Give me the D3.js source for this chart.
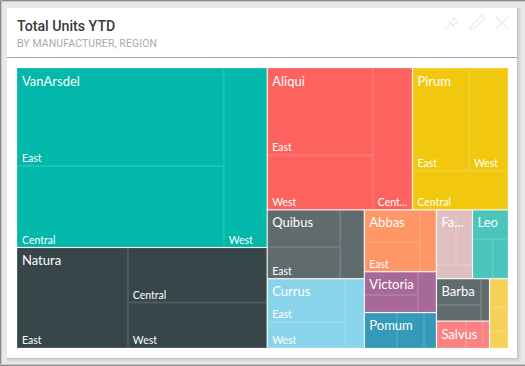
<!DOCTYPE html>
<html><head><meta charset="utf-8">
<script src="https://cdn.jsdelivr.net/npm/d3@7"></script>
<style>
html,body{margin:0;padding:0;background:#e6e6e6;overflow:hidden}
svg{display:block}
</style></head><body>
<svg id="c" width="525" height="366"></svg>
<script>
const titleText = "Total Units YTD";
const subtitleText = "BY MANUFACTURER, REGION";
const manufacturers = ["VanArsdel","Natura","Aliqui","Pirum","Quibus","Currus","Abbas","Victoria","Pomum","Fa...","Leo","Barba","Salvus",""];
const colors = ["#01B8AA","#374649","#FD625E","#F2C80F","#5F6B6D","#8AD4EB","#FE9666","#A66999","#3599B8","#DFBFBF","#4AC5BB","#5F6B6D","#FB8281","#F4D25A"];
const regionLabels = [
 ["East","Central","West"],
 ["East","Central","West"],
 ["East","West","Cent..."],
 ["East","West","Central"],
 ["","East",""],
 ["East","West",""],
 ["","East",""],
 ["","",""],
 ["","",""],
 ["","",""],
 ["","",""],
 ["","",""],
 ["","",""],
 ["","",""]
];
const regionUnits = [
 [20286,16870,7808],
 [11155,7672,6347],
 [9239,5770,5619],
 [5820,4017,3737],
 [2738,2300,1656],
 [3371,2015,1355],
 [1804,1637,1023],
 [1257,936,758],
 [1154,958,444],
 [1082,916,486],
 [1047,790,612],
 [1179,712,361],
 [796,446,188],
 [527,444,314]
];
// how many tiles share each strip of the treemap, largest strip first
const topStrips = [2,2,2,3,2,2,1];
const regionStrips = [[2,1],[1,2],[2,1],[2,1],[2,1],[2,1],[2,1],[2,1],[1,1,1],[2,1],[1,2],[2,1],[1,2],[1,1,1]];

const svg = d3.select("#c");
const W = 491, H = 280, X0 = 17, Y0 = 68;

function rect(x,y,w,h,f,o){return svg.append("rect").attr("x",x).attr("y",y).attr("width",w).attr("height",h).attr("fill",f).attr("fill-opacity",o==null?1:o);}
// page frame
rect(0,0,525,366,"#e8e8e8");
rect(0,0,525,1,"#8c8c8c");
rect(0,1,525,1,"#c4c4c4");
rect(0,0,1,366,"#8c8c8c");
rect(1,0,1,366,"#c4c4c4");
rect(0,365,525,1,"#8c8c8c");
rect(0,364,525,1,"#c4c4c4");
// card shadow
[[4,.03],[3,.03],[2,.04],[1,.05]].forEach(([s,o])=>rect(7,8,510+s,350+s,"#000",o));
rect(7,8,510,350,"#fff");
rect(7,57,510,1,"#a6a6a6");

svg.append("text").attr("x",17).attr("y",31).text(titleText)
  .attr("font-family","Roboto").attr("font-weight",500).attr("font-size",14.2).attr("fill","#3a3a3a");
svg.append("text").attr("x",17).attr("y",46.5).text(subtitleText)
  .attr("font-family","Roboto").attr("font-size",10.5).attr("letter-spacing",0.1).attr("fill","#aaa");

// header icons
const icons = svg.append("g").attr("fill","none").attr("stroke","#ebebeb").attr("stroke-width",1.2);
icons.append("path").attr("d","M445 30L450 25M448 21L454 27M451 23L454 18L458 22L453 25");
icons.append("path").attr("d","M470 30L472 25L482 15L485 18L475 28Z");
icons.append("path").attr("d","M496 17L508 29M508 17L496 29");

const root = d3.hierarchy({children: manufacturers.map((m,i)=>({
    name:m, color:colors[i], strips:regionStrips[i],
    children: regionUnits[i].map((v,j)=>({name:regionLabels[i][j], value:v}))
  }))}).sum(d=>d.value||0);

// strip layout: each strip runs along the shorter remaining side
function stripTile(node,x0,y0,x1,y1){
  const counts = node.data.strips || topStrips;
  let rest = node.value, i = 0;
  counts.forEach(n=>{
    const row = node.children.slice(i,i+n);
    const v = d3.sum(row,c=>c.value);
    const holder = {children:row, value:v};
    if (x1-x0 >= y1-y0){
      const w = (x1-x0)*v/rest;
      d3.treemapSlice(holder,x0,y0,x0+w,y1); x0 += w;
    } else {
      const h = (y1-y0)*v/rest;
      d3.treemapDice(holder,x0,y0,x1,y0+h); y0 += h;
    }
    rest -= v; i += n;
  });
}
d3.treemap().size([W,H]).tile(stripTile).round(false)(root);

const g = svg.append("g").attr("transform",`translate(${X0},${Y0})`);
const groups = g.selectAll("g").data(root.children).join("g");
const gap = 0.5;
groups.append("rect")
  .attr("x",d=>d.x0+(d.x0>0?gap:0)).attr("y",d=>d.y0+(d.y0>0?gap:0))
  .attr("width",d=>d.x1-d.x0-(d.x0>0?gap:0)-(d.x1<W-.01?gap:0))
  .attr("height",d=>d.y1-d.y0-(d.y0>0?gap:0)-(d.y1<H-.01?gap:0))
  .attr("fill",d=>d.data.color);
groups.selectAll("rect.cell").data(d=>d.children).join("rect").attr("class","cell")
  .attr("x",d=>d.x0+.5).attr("y",d=>d.y0+.5)
  .attr("width",d=>Math.max(0,d.x1-d.x0-1)).attr("height",d=>Math.max(0,d.y1-d.y0-1))
  .attr("fill","none").attr("stroke","#fff").attr("stroke-opacity",.13);
groups.append("text").attr("x",d=>d.x0+5).attr("y",d=>d.y0+17.5).text(d=>d.data.name)
  .attr("font-family","Lato").attr("font-size",13).attr("fill","#fff");
groups.selectAll("text.reg").data(d=>d.children.filter(c=>c.data.name)).join("text").attr("class","reg")
  .attr("x",d=>d.x0+5).attr("y",d=>d.y1-4).text(d=>d.data.name)
  .attr("font-family","Lato").attr("font-size",10.5).attr("fill","#fff");
</script>
</body></html>
